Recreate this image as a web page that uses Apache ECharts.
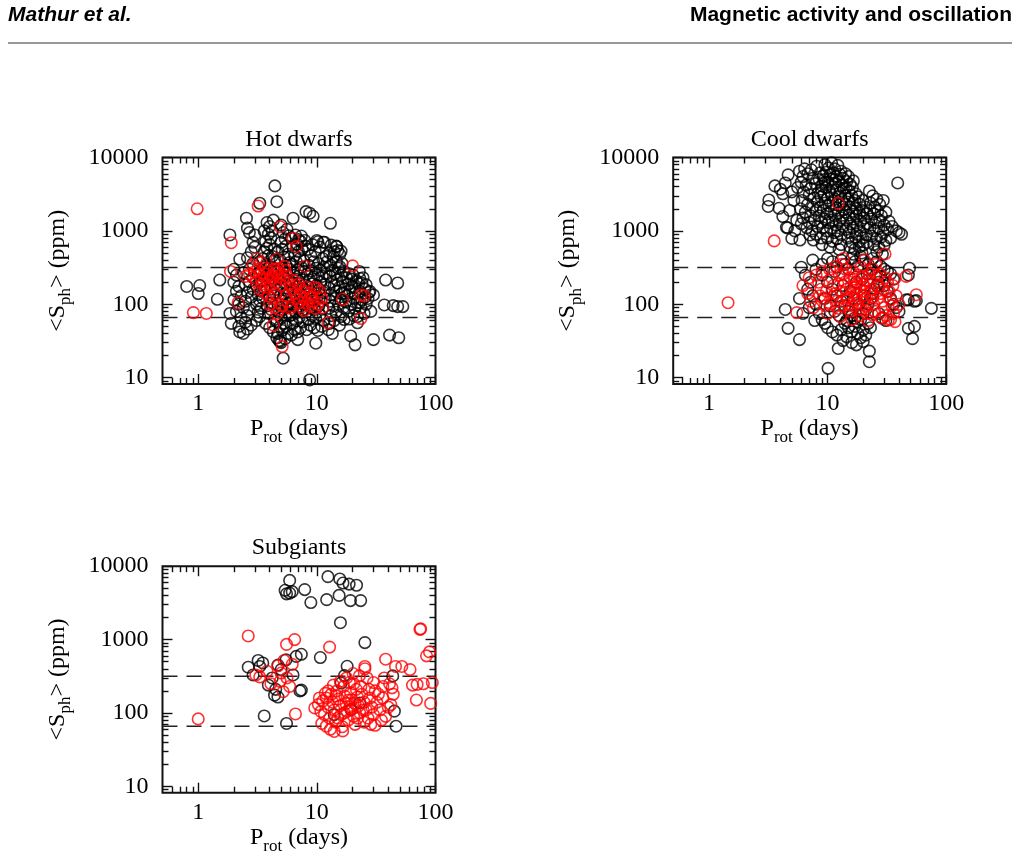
<!DOCTYPE html>
<html>
<head>
<meta charset="utf-8">
<title>Sph vs Prot</title>
<script src="https://cdn.jsdelivr.net/npm/echarts@6.0.0/dist/echarts.min.js"></script>
<style>
  html, body { margin: 0; padding: 0; background: #fff; }
  #main { width: 1018px; height: 858px; }
</style>
</head>
<body>
<div id="main"></div>
<script>
const FONT = "'Liberation Serif', 'DejaVu Serif', serif";
const SANS = "'Liberation Sans', Arial, sans-serif";

const PANELS = ['Hot dwarfs', 'Cool dwarfs', 'Subgiants'];
const X_LABELS = [1, 10, 100];
const X_MINOR = [0.6, 0.7, 0.8, 0.9, 2, 3, 4, 5, 6, 7, 8, 9, 20, 30, 40, 50, 60, 70, 80, 90];
const Y_LABELS = [10, 100, 1000, 10000];
const Y_MINOR = [9, 20, 30, 40, 50, 60, 70, 80, 90, 200, 300, 400, 500, 600, 700, 800, 900,
  2000, 3000, 4000, 5000, 6000, 7000, 8000, 9000];
const LEVELS = [316, 66];   // dashed lines, ppm
const X_MIN = 0.5, X_MAX = 100;
const Y_MIN = 8.2, Y_MAX = 10000;

// [Prot (days), Sph (ppm)]
const hotBlack = [
  [0.8,175],[1.03,180],[1.0,140],[1.52,214],[1.45,117],[1.85,880],[2.24,410],[2.55,1490],[2.6,1090],
  [3.3,2380],[4.43,4100],[4.6,2500],[8.1,1830],[8.7,1740],[9.3,1580],[13,1270],[6.3,1490],[14.7,610],
  [38,214],[48,195],[37,98],[44,96],[48,93],[53,93],[41,38],[49,35],[30,33],[19.3,37],[21,28],[22,56],
  [18.8,63],[28.5,80],[30,134],[24,193],[17,141],[5.2,18.4],[4.9,31],[8.7,9.3],[9.8,29.5],[6.9,33],
  [1.85,75],[1.9,55],[2.24,42],[2.4,40],[23,106],[25.5,125],[23,225],[26,185],[27.5,145],[15.6,325],
  [14,520],[15,540],[10.2,710],[11.3,700],[13.2,640],[14.6,620],[16,530],
  [2.0,300],[2.1,250],[2.0,200],[2.2,175],[2.1,150],[2.3,130],[2.0,115],[2.2,100],[2.4,90],[2.1,80],
  [2.3,65],[2.5,57],[2.2,50],[2.6,46],[2.8,52],[2.6,70],[2.7,85],[2.5,110],[2.8,125],[2.6,145],
  [2.9,160],[2.5,185],[2.7,205],[2.9,230],[2.4,270],[2.7,300],[2.9,360],[2.6,430],[2.8,520],[3.0,600],
  [2.9,700],[3.0,880],[2.7,950],
  [3.1,60],[3.3,68],[3.2,78],[3.4,88],[3.1,100],[3.3,112],[3.5,120],[3.2,135],[3.4,150],[3.6,165],
  [3.1,180],[3.3,200],[3.5,215],[3.7,240],[3.2,260],[3.4,290],[3.6,320],[3.8,350],[3.3,380],[3.5,420],
  [3.9,460],[3.6,520],[3.8,580],[4.0,650],[3.7,720],[4.1,800],[3.9,900],[4.2,1000],[4.0,1150],[3.8,1300],
  [4.3,1400],[3.6,1000],[3.9,75],[4.1,85],[3.8,95],[4.2,105],[4.0,125],[4.3,140],[4.1,160],[4.4,185],
  [4.2,205],[4.0,225],[4.4,250],[4.1,280],[4.3,310],[4.4,400],[4.2,450],[4.4,560],[3.7,55],[4.0,48],
  [4.3,42],[4.4,62],
  [4.6,35],[4.8,32],[5.0,30],[4.7,40],[5.1,44],[4.9,50],[5.3,55],[4.6,58],[5.0,65],[5.4,72],
  [4.8,78],[5.2,85],[5.6,92],[4.7,100],[5.1,110],[5.5,118],[4.9,128],[5.3,138],[5.7,150],[4.6,160],
  [5.0,175],[5.4,190],[5.8,205],[4.8,220],[5.2,240],[5.6,262],[4.7,285],[5.1,310],[5.5,340],[5.9,370],
  [4.9,400],[5.3,440],[5.7,480],[4.7,520],[5.1,560],[5.5,620],[5.0,700],[5.4,780],[5.8,860],[5.2,950],
  [5.6,1050],[5.0,1200],[5.9,300],[5.8,105],[5.9,70],[5.5,50],[5.7,40],[5.4,34],
  [6.1,38],[6.5,45],[6.9,42],[7.3,48],[6.3,55],[6.7,60],[7.1,66],[7.6,58],[6.2,72],[6.6,80],
  [7.0,88],[7.5,78],[6.4,95],[6.8,105],[7.3,112],[7.8,100],[6.1,120],[6.5,132],[7.0,145],[7.5,130],
  [6.3,160],[6.8,175],[7.2,190],[7.7,165],[6.2,200],[6.6,220],[7.1,245],[7.6,215],[6.4,270],[6.9,295],
  [7.4,320],[7.9,280],[6.2,350],[6.7,380],[7.2,420],[7.8,390],[6.5,460],[7.0,520],[7.5,560],[6.3,600],
  [6.8,660],[7.3,720],[6.1,800],[6.6,880],[7.4,850],[7.0,760],[7.9,740],[8.0,620],
  [8.2,45],[8.8,52],[9.5,48],[10.2,44],[11.0,50],[8.5,62],[9.1,70],[9.8,64],[10.6,72],[11.5,60],
  [8.3,80],[8.9,90],[9.6,85],[10.4,95],[11.2,88],[8.6,105],[9.3,115],[10.0,125],[10.8,110],[11.8,120],
  [8.2,135],[8.9,150],[9.7,140],[10.5,160],[11.4,145],[8.4,175],[9.1,190],[9.9,180],[10.8,200],[11.7,185],
  [8.7,215],[9.4,235],[10.2,250],[11.1,240],[12.0,260],[8.3,260],[9.0,285],[9.8,310],[10.6,290],[11.5,320],
  [8.6,340],[9.4,380],[10.3,360],[11.2,420],[12.2,380],[8.9,460],[9.7,520],[10.6,600],[11.6,700],[9.2,650],
  [10.0,740],[8.4,560],[12.0,450],
  [12.5,45],[13.5,40],[12.8,55],[14.0,60],[15.5,52],[13.2,70],[14.5,78],[16.0,68],[12.6,88],[13.8,95],
  [15.2,100],[16.8,90],[12.9,110],[14.2,120],[15.8,115],[17.5,108],[13.1,135],[14.6,150],[16.2,140],[18.0,130],
  [12.7,165],[14.0,180],[15.5,170],[17.2,160],[19.0,150],[13.3,200],[14.8,215],[16.5,205],[18.5,190],[12.9,240],
  [14.3,260],[16.0,250],[17.8,230],[19.5,220],[13.5,290],[15.2,310],[17.0,280],[13.0,340],[14.6,380],[16.3,360],
  [13.8,440],[15.6,480],[12.8,500],[18.8,260],[19.5,100],[18.5,80],[17.0,62],[19.8,175],
  [20.5,120],[22.0,105],[24.0,115],[21.0,140],[23.0,150],[25.5,160],[20.8,170],[22.5,190],[21.5,210],[24.5,230],
  [20.2,250],[22.8,280],[21.0,88],[23.5,90],[26.0,100],[20.5,70],[27.0,120],[28.0,150],[22.0,68],[25.0,75]
];
const hotRed = [
  [0.98,2000],[0.91,77],[1.17,75],[1.9,690],[1.87,280],[2.17,105],[3.2,2180],[4.9,1140],[6.3,790],
  [6.7,610],[4.3,52],[5.1,26.5],[20,334],[16.5,117],[23.5,134],[25,130],[23.5,64],[12.4,56],[7.9,330],
  [2.5,240],[2.7,260],[2.9,230],[3.0,280],[3.1,200],[3.3,250],[3.2,300],[3.4,220],[3.6,260],[3.5,190],
  [3.8,230],[3.7,170],[3.9,280],[4.0,210],[4.2,250],[4.1,180],[4.4,300],[4.3,230],[4.6,270],[4.5,200],
  [4.8,240],[4.7,310],[5.0,260],[5.2,220],[5.4,290],[3.3,160],[3.6,145],[3.9,130],[4.2,120],[4.5,140],
  [4.0,100],[4.4,90],[4.8,85],[5.1,95],[4.6,75],[3.1,420],[3.4,370],[4.6,410],[5.3,330],[5.6,240],
  [5.9,190],[6.2,160],[6.5,140],[6.8,120],[7.1,105],[7.4,130],[7.7,150],[6.6,180],[7.0,190],[7.3,165],
  [8.0,120],[8.3,105],[8.6,95],[9.0,125],[9.3,110],[9.7,88],[10.2,100],[10.6,150],[11.2,90],[10.0,165],
  [8.8,140],[6.1,95],[7.8,82],[5.7,110],[6.4,210],[9.5,170],[2.9,340],[3.7,310],[4.9,180],[5.5,130],
  [11,120],[7.5,92],[6.0,88],[8.2,170]
];
const coolBlack = [
  [3.2,2640],[3.16,2150],[3.6,4100],[4.65,5800],[4.2,3200],[3.9,2030],[4.2,1570],[4.6,1100],[4.5,1120],
  [5.0,790],[5.85,750],[7.6,750],[4.0,3700],[4.4,4500],[5.0,3400],[5.2,2600],[4.8,1900],[5.5,1400],[5.3,1000],
  [5.8,6500],[6.2,5500],[6.8,6000],[7.5,5200],[6.0,4600],[6.6,4200],[7.2,3800],[7.9,4400],[8.5,5000],[6.3,3400],
  [7.0,3100],[7.7,2800],[8.3,3300],[8.9,3700],[6.1,2600],[6.8,2300],[7.5,2100],[8.2,2500],[8.8,2900],[5.9,2000],
  [6.5,1800],[7.2,1600],[8.0,1900],[8.7,2100],[6.2,1500],[7.0,1300],[7.8,1400],[8.5,1600],[6.7,1100],[7.4,1000],
  [8.2,1150],[8.9,1300],[6.0,1250],[7.1,880],[8.0,900],[8.8,800],[5.6,3900],[6.4,7000],[7.3,6800],[8.1,7600],
  [8.7,6200],[9.2,5600],[9.5,4600],[9.0,4100],
  [9.5,8000],[10.2,7200],[10.8,8500],[11.5,7000],[12.2,7800],[13.0,6500],[9.8,6300],[10.5,5800],[11.2,6200],
  [11.9,5500],[12.7,5900],[13.5,5200],[9.4,5000],[10.1,4600],[10.9,5100],[11.6,4500],[12.4,4800],[13.2,4200],
  [9.7,3900],[10.4,3500],[11.1,4000],[11.9,3600],[12.7,3300],[13.6,3800],[9.3,3100],[10.0,2800],[10.8,3100],
  [11.6,2700],[12.4,2900],[13.3,2500],[9.6,2400],[10.3,2200],[11.1,2400],[11.9,2050],[12.8,2250],[13.7,1950],
  [9.2,1900],[9.9,1700],[10.7,1850],[11.5,1600],[12.3,1750],[13.1,1500],[9.5,1450],[10.2,1300],[11.0,1400],
  [11.8,1200],[12.6,1350],[13.5,1150],[9.1,1100],[9.8,1000],[10.6,1080],[11.4,950],[12.2,1000],[13.0,880],
  [10.0,800],[11.0,720],[12.0,780],[13.0,650],[10.5,600],[12.5,560],[9.0,650],
  [14.2,6000],[15.0,5500],[14.5,4700],[15.5,4300],[16.5,4800],[14.3,3900],[15.2,3500],[16.2,3900],[17.3,3200],
  [14.1,3000],[15.0,2700],[16.0,3000],[17.0,2600],[18.2,2900],[14.4,2300],[15.4,2100],[16.4,2400],[17.5,2000],
  [18.7,2300],[19.8,2600],[14.2,1800],[15.2,1650],[16.3,1850],[17.4,1600],[18.6,1750],[19.8,1900],[21.0,2100],
  [14.5,1400],[15.5,1250],[16.6,1450],[17.8,1200],[19.0,1350],[20.3,1500],[21.6,1700],[14.3,1050],[15.3,950],
  [16.4,1100],[17.6,900],[18.8,1000],[20.1,1150],[21.5,1250],[14.8,800],[16.0,700],[17.2,820],[18.5,720],
  [19.8,800],[21.2,880],[15.5,600],[17.0,560],[18.5,600],[20.0,640],[21.5,700],[16.5,480],[19.5,500],
  [22.5,3500],[24.0,3000],[26.0,2700],[23.0,2400],[25.0,2100],[27.5,2300],[29.5,2600],[22.8,1900],[24.5,1700],
  [26.5,1850],[28.5,1600],[31.0,1800],[23.5,1450],[25.5,1300],[27.5,1400],[30.0,1200],[33.0,1350],[22.8,1100],
  [24.8,1000],[27.0,1080],[29.5,950],[32.0,1050],[35.0,1150],[38.0,1000],[23.5,850],[25.8,780],[28.2,820],
  [31.0,740],[34.0,800],[40.0,950],[42.0,900],[24.5,650],[27.0,600],[30.0,640],[26.0,520],[29.0,480],[39,4500],
  [4.4,85],[4.65,47],[5.8,33],[10.1,13.4],[12.3,25],[20,31],[22.5,23],[22.5,16.5],[48,47],[54,50],[52,34],
  [46,115],[56,112],[75,88],[49,310],[48,250],[48,115],[54,110],
  [6.5,250],[7.2,200],[6.8,160],[7.5,130],[8.0,100],[7.0,90],[8.5,75],[9.0,62],[9.5,55],[10.0,48],
  [11.0,42],[12.0,38],[13.0,45],[14.0,55],[15.0,48],[16.0,42],[17.0,50],[18.0,40],[19.0,35],[20.0,45],
  [21.0,38],[22.0,55],[23.0,48],[8.0,300],[9.0,350],[10.0,420],[11.0,380],[12.0,320],[13.0,400],[14.0,350],
  [15.0,300],[16.0,420],[17.0,380],[18.0,330],[19.0,450],[20.0,400],[22.0,350],[24.0,420],[26.0,380],[28.0,330],
  [30.0,300],[32.0,280],[34.0,260],[36.0,220],[9.0,250],[10.0,200],[11.0,160],[12.0,130],[13.0,110],[14.0,95],
  [15.0,80],[16.0,70],[17.0,65],[18.0,58],[19.0,62],[20.0,75],[21.0,85],[22.0,100],[23.0,120],[24.0,140],
  [25.0,160],[26.0,180],[27.0,200],[28.0,240],[30.0,180],[32.0,150],[34.0,120],[36.0,100],[38.0,90],[40.0,80],
  [27.0,75],[29.0,65],[31.0,60],[12.5,70],[14.5,60],[9.5,120],[10.5,95],[11.5,80],[16.5,120],[18.5,100],
  [20.5,130],[15.5,150],[13.5,180],[17.5,200],[19.5,220],[21.5,260],[23.5,300],[25.5,250],[11.5,280],[7.5,400],
  [6.0,320],[5.8,120],[6.2,75],[7.8,60],[16,30],[17.5,28],[13.5,32],[14.5,36]
];
const coolRed = [
  [12.3,2370],[3.55,730],[1.45,105],[5.5,77],[30.5,485],[56,135],[46,240],[37,225],[32.5,61],
  [6.2,180],[6.8,140],[7.2,110],[7.6,90],[8.0,250],[8.4,200],[8.8,160],[9.2,120],[9.6,95],[10.0,75],
  [10.4,300],[10.8,230],[11.2,180],[11.6,140],[12.0,110],[12.4,88],[12.8,68],[13.2,350],[13.6,260],[14.0,200],
  [14.4,160],[14.8,125],[15.2,100],[15.6,80],[16.0,62],[16.4,280],[16.8,220],[17.2,170],[17.6,135],[18.0,105],
  [18.4,85],[18.8,70],[19.2,320],[19.6,240],[20.0,190],[20.4,150],[20.8,118],[21.2,95],[21.6,75],[22.0,60],
  [22.5,260],[23.0,200],[23.5,160],[24.0,125],[24.5,100],[25.0,80],[26.0,240],[27.0,180],[28.0,140],[29.0,110],
  [30.0,90],[31.0,70],[32.0,200],[33.0,150],[34.0,115],[35.0,95],[36.0,75],[38.0,130],[40.0,100],[12.2,190],
  [13.0,150],[14.6,120],[15.8,175],[16.6,145],[17.8,190],[18.6,160],[19.8,130],[20.6,170],[11.0,125],[9.8,150],
  [8.6,130],[10.6,100],[13.8,95],[15.4,230],[17.0,115],[18.2,250],[22.8,140],[26.5,120],[29.5,160],[21.5,210],
  [14.2,300],[12.6,250],[24.2,300],[27.5,260],[30.5,230],[35.5,180],[11.8,330],[9.0,280],[7.0,230],[16.2,95],
  [19.4,85],[23.8,72],[28.5,65],[34,62],[37,58],[13.6,420],[20.5,400],[25.5,350]
];
const subBlack = [
  [5.9,6400],[5.4,4700],[5.55,4200],[5.9,4300],[6.2,4500],[7.9,4800],[8.9,3200],[12.4,7200],[15.6,6700],
  [16.6,5900],[18.7,5700],[21.6,5500],[12.1,3500],[15.4,4000],[19.2,3400],[23.4,3400],[15.8,1700],[25.4,910],
  [10.7,570],[2.64,420],[2.9,330],[3.2,520],[3.5,480],[3.9,240],[4.4,175],[4.7,165],[4.7,450],[5.5,530],
  [6.7,590],[7.4,630],[6.3,330],[7.2,200],[3.6,91],[5.55,72],[18,433],[17.1,323],[16,256],[43.6,320],
  [45,106],[46.5,66],[3.3,430],[4.2,300],[5.0,390],[4.5,210],[7.4,205],[23,137],[19.4,111],[14,95]
];
const subRed = [
  [1.0,83],[2.64,1120],[5.55,860],[6.5,1000],[6.6,97],[12.8,790],[74,1380],[75,1400],[84,600],[89,680],
  [38,540],[25.4,400],[25.4,430],[61,390],[64,240],[70,245],[79,250],[94,260],[69,150],[91,135],[43,220],
  [37,300],[41,250],[46,430],[52,430],
  [3.06,330],[3.3,310],[3.8,370],[4.7,440],[5.0,350],[4.9,270],[5.9,230],[4.1,250],[5.2,195],[5.6,300],
  [6.2,460],[5.3,520],
  [9.6,117],[10.3,130],[10.8,105],[11.2,145],[11.6,95],[12.0,160],[12.4,120],[12.8,85],[13.2,180],[13.6,140],
  [14.0,110],[14.4,75],[14.8,200],[15.2,155],[15.6,125],[16.0,95],[16.4,65],[16.8,230],[17.2,170],[17.6,135],
  [18.0,105],[18.4,80],[18.8,260],[19.2,190],[19.6,150],[20.0,115],[20.4,90],[21.0,70],[21.5,210],[22.0,165],
  [22.5,125],[23.0,100],[24.0,180],[25.0,140],[26.0,110],[27.0,85],[28.0,160],[29.0,120],[30.0,95],[31.0,200],
  [32.0,140],[34.0,110],[36.0,160],[38.0,90],[40.0,120],[11.0,72],[13.0,60],[14.0,56],[16.5,57],[12.0,66],
  [15.0,85],[17.0,100],[19.0,120],[22.0,85],[25.0,75],[13.8,240],[15.8,270],[17.8,300],[20.5,250],[23.5,230],
  [27.5,210],[30,260],[33,180],[36,230],[12.5,200],[10.5,160],[11.8,185],[14.5,170],[18.5,150],[21,135],
  [24.5,110],[28.5,70],[31,68],[35,80],[42,130],[44,180],[26.5,300],[22.8,320],[20.2,345]
];

const blackSets = [hotBlack, coolBlack, subBlack];
const redSets = [hotRed, coolRed, subRed];

// plot boxes (px)
const boxes = [
  { left: 162.5, top: 157.5 },
  { left: 673.2, top: 157.5 },
  { left: 162.5, top: 566.2 }
];
const BOX_W = 273, BOX_H = 226.5;

const nameRich = {
  a: { fontFamily: FONT, fontSize: 24, color: '#000', lineHeight: 34 },
  s: { fontFamily: FONT, fontSize: 17, color: '#000', lineHeight: 17, verticalAlign: 'bottom' }
};

function makeAxis(dim, gi, pos, ticks, len, main) {
  var isX = dim === 'x';
  var a = {
    type: 'log',
    logBase: 10,
    gridIndex: gi,
    position: pos,
    min: isX ? X_MIN : Y_MIN,
    max: isX ? X_MAX : Y_MAX,
    axisLine: { show: false },
    splitLine: { show: false },
    axisTick: {
      show: true, inside: true, length: len, customValues: ticks,
      lineStyle: { color: '#111', width: 1.4 }
    },
    axisLabel: { show: false }
  };
  if (main) {
    a.axisLabel = {
      show: true,
      customValues: isX ? X_LABELS : Y_LABELS,
      formatter: function (v) { return String(Math.round(v)); },
      color: '#000', fontFamily: FONT, fontSize: 24,
      margin: isX ? 8 : 14
    };
    a.name = isX ? '{a|P}{s|rot}{a| (days)}' : '{a|<S}{s|ph}{a|> (ppm)}';
    a.nameLocation = 'middle';
    a.nameGap = isX ? 26 : 88;
    a.nameTextStyle = { rich: nameRich };
  }
  return a;
}

var grid = [], xAxis = [], yAxis = [], series = [], graphic = [];

boxes.forEach(function (b, gi) {
  grid.push({
    left: b.left, top: b.top, width: BOX_W, height: BOX_H,
    show: true, borderColor: '#111', borderWidth: 2, backgroundColor: 'transparent'
  });
  xAxis.push(makeAxis('x', gi, 'bottom', X_LABELS, 10, true));
  xAxis.push(makeAxis('x', gi, 'bottom', X_MINOR, 6, false));
  xAxis.push(makeAxis('x', gi, 'top', X_LABELS, 10, false));
  xAxis.push(makeAxis('x', gi, 'top', X_MINOR, 6, false));
  yAxis.push(makeAxis('y', gi, 'left', Y_LABELS, 10, true));
  yAxis.push(makeAxis('y', gi, 'left', Y_MINOR, 6, false));
  yAxis.push(makeAxis('y', gi, 'right', Y_LABELS, 10, false));
  yAxis.push(makeAxis('y', gi, 'right', Y_MINOR, 6, false));

  var xi = gi * 4, yi = gi * 4;
  LEVELS.forEach(function (lv) {
    series.push({
      type: 'line', xAxisIndex: xi, yAxisIndex: yi,
      data: [[X_MIN, lv], [X_MAX, lv]],
      symbol: 'none', silent: true, z: 1,
      lineStyle: { color: '#222', width: 1.5, type: [15, 9] }
    });
  });
  [[blackSets[gi], '#000'], [redSets[gi], '#f00']].forEach(function (s) {
    series.push({
      type: 'scatter', xAxisIndex: xi, yAxisIndex: yi,
      data: s[0], symbol: 'circle', symbolSize: 11.5, silent: true, clip: true,
      itemStyle: { color: 'rgba(0,0,0,0)', borderColor: s[1], borderWidth: 1.6 }
    });
  });

  graphic.push({
    type: 'text', x: b.left + BOX_W / 2, y: b.top - 18,
    style: { text: PANELS[gi], font: '24px ' + FONT, fill: '#000', align: 'center', verticalAlign: 'middle' }
  });
});

// page header
graphic.push({
  type: 'text', x: 8, y: 15,
  style: { text: 'Mathur et al.', font: 'italic bold 21px ' + SANS, fill: '#000', align: 'left', verticalAlign: 'middle' }
});
graphic.push({
  type: 'text', x: 1012, y: 15,
  style: { text: 'Magnetic activity and oscillation', font: 'bold 21px ' + SANS, fill: '#000', align: 'right', verticalAlign: 'middle' }
});
graphic.push({
  type: 'line', shape: { x1: 8, y1: 43, x2: 1012, y2: 43 },
  style: { stroke: '#333', lineWidth: 1.2 }
});

var chart = echarts.init(document.getElementById('main'), null, { renderer: 'canvas' });
chart.setOption({
  animation: false,
  backgroundColor: '#fff',
  grid: grid,
  xAxis: xAxis,
  yAxis: yAxis,
  series: series,
  graphic: graphic
});
</script>
</body>
</html>
